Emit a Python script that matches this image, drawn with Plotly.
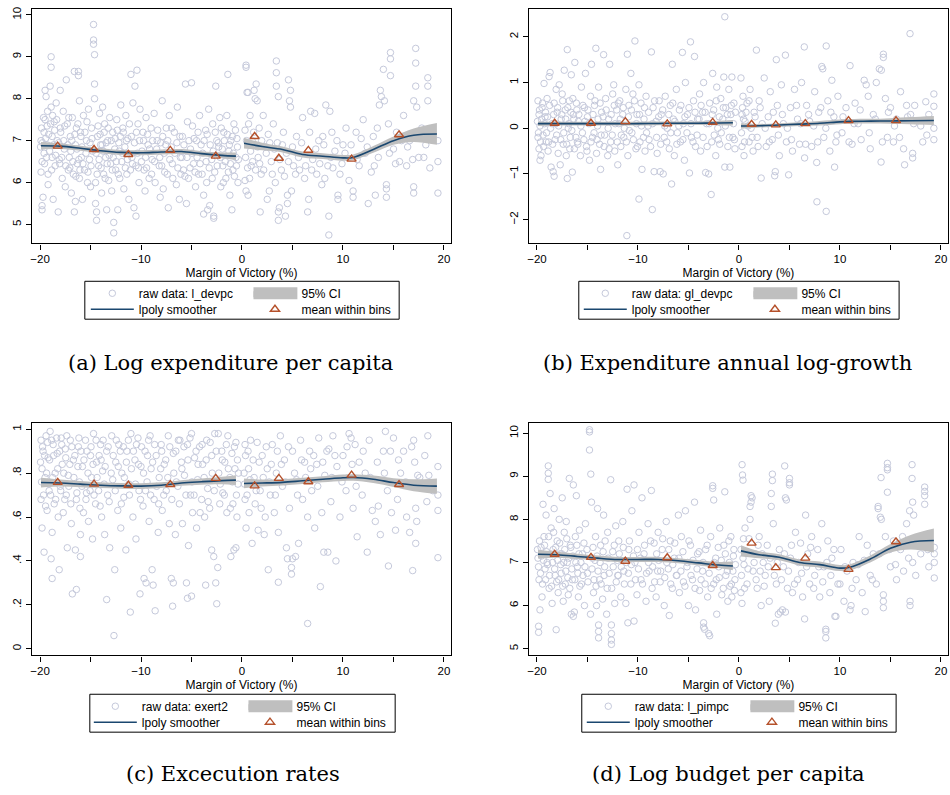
import plotly.graph_objects as go

# ---------------- data ----------------
raw_a = [(-19.9,7.0),(-19.8,6.5),(-19.9,6.25),(-19.8,5.35),(-19.8,5.45),(-19.7,5.65),(-19.6,6.7),(-19.6,7.2),(-19.5,7.5),(-19.5,8.2),(-19.4,8.05),(-19.3,7.35),(-19.3,6.9),(-19.2,6.2),(-19.2,5.95),(-19.0,8.3),(-18.9,9.0),(-18.9,8.75),(-18.9,7.8),(-18.8,7.1),(-18.8,6.6),(-18.7,5.6),(-18.6,7.45),(-18.5,6.4),(-18.4,7.9),(-18.3,7.0),(-18.2,5.3),(-18.1,6.55),(-18.0,8.2),(-18.0,7.3),
(-17.8,6.1),(-17.7,7.7),(-17.6,6.8),(-17.5,5.9),(-17.4,8.45),(-17.3,7.4),(-17.2,6.3),(-17.1,6.6),(-17.0,7.1),(-16.9,5.75),(-16.8,7.55),(-16.7,6.2),(-16.6,8.65),(-16.6,5.3),(-16.5,5.55),(-16.5,6.9),(-16.4,7.3),(-16.3,6.45),(-16.2,8.65),(-16.2,8.55),(-16.1,7.95),(-16.1,6.1),(-16.0,7.2),(-15.9,6.6),(-15.8,5.6),(-15.7,7.6),(-15.6,6.3),
(-15.4,7.0),(-15.3,6.0),(-15.2,7.75),(-15.1,6.55),(-15.0,5.9),(-14.9,7.3),(-14.8,6.75),(-14.7,9.77),(-14.7,9.4),(-14.7,9.3),(-14.6,9.05),(-14.6,8.35),(-14.6,8.0),(-14.5,6.0),(-14.5,5.5),(-14.4,5.3),(-14.4,5.1),(-14.3,7.1),(-14.2,6.4),(-14.1,7.65),(-14.0,6.9),(-13.9,5.75),(-13.8,7.8),
(-13.7,6.2),(-13.6,7.4),(-13.5,6.6),(-13.4,5.35),(-13.3,7.0),(-13.2,6.05),(-13.1,7.55),(-13.0,6.45),(-12.9,5.8),(-12.8,7.2),(-12.7,5.05),(-12.7,4.8),(-12.6,6.8),(-12.5,6.3),(-12.4,7.5),(-12.3,5.35),(-12.2,6.95),(-12.1,6.1),(-12.0,7.85),
(-11.9,6.5),(-11.8,7.3),(-11.7,5.85),(-11.6,6.85),(-11.5,7.6),(-11.4,6.2),(-11.3,7.05),(-11.2,5.6),(-11.0,8.58),(-10.9,6.6),(-10.8,7.9),(-10.7,5.4),(-10.6,8.3),(-10.5,5.2),(-10.5,6.4),(-10.4,8.68),(-10.3,7.4),(-10.2,6.0),(-10.1,7.75),
(-9.9,6.75),(-9.8,7.2),(-9.7,6.3),(-9.6,5.8),(-9.5,7.55),(-9.3,6.9),(-9.2,6.1),(-9.0,7.3),(-8.9,6.55),(-8.7,7.65),(-8.6,6.0),(-8.4,7.0),(-8.2,6.4),(-8.1,5.65),
(-7.9,7.95),(-7.8,5.85),(-7.7,6.7),(-7.5,7.3),(-7.4,6.2),(-7.3,5.4),(-7.2,7.6),(-7.0,6.85),(-6.9,6.45),(-6.7,7.2),(-6.5,5.95),(-6.4,7.8),(-6.2,5.6),(-6.1,6.6),
(-5.9,7.1),(-5.8,6.3),(-5.6,8.35),(-5.5,5.5),(-5.4,7.45),(-5.3,6.1),(-5.1,6.8),(-5.0,8.38),(-4.9,7.35),(-4.8,6.45),(-4.6,5.9),(-4.5,7.0),(-4.3,6.2),(-4.2,7.6),
(-3.9,6.7),(-3.8,5.7),(-3.8,5.25),(-3.6,7.25),(-3.5,6.0),(-3.4,5.35),(-3.3,7.75),(-3.2,5.45),(-3.0,6.55),(-2.9,7.4),(-2.8,5.2),(-2.8,5.15),(-2.7,6.25),(-2.6,8.3),(-2.5,7.0),(-2.3,6.85),(-2.2,7.55),(-2.1,5.9),
(-1.9,6.4),(-1.8,7.2),(-1.6,6.1),(-1.5,7.6),(-1.4,8.58),(-1.3,6.75),(-1.2,5.7),(-1.1,7.0),(-1.0,5.35),(-0.9,6.3),(-0.8,7.4),(-0.6,6.6),(-0.5,7.05),(-0.4,6.0),
(0.3,7.25),(0.3,6.05),(0.4,8.8),(0.4,8.75),(0.4,5.8),(0.5,8.15),(0.6,8.15),(0.6,5.7),(0.7,6.9),(0.8,7.6),(0.9,6.4),(1.0,7.0),(1.2,8.2),(1.3,8.0),(1.4,8.35),(1.5,7.95),(1.6,6.6),(1.7,7.3),(1.8,5.3),(1.9,6.2),(2.1,7.6),(2.3,6.85),(2.5,5.6),(2.6,7.15),(2.7,5.8),(2.9,6.5),(3.1,7.4),(3.3,6.0),(3.4,8.9),(3.4,8.62),(3.4,8.3),(3.5,6.95),(3.6,8.05),(3.6,5.3),(3.6,5.1),(3.7,5.4),(3.9,6.3),(4.1,7.2),(4.3,5.2),(4.4,6.7),(4.5,5.5),(4.5,5.7),(4.6,8.45),(4.7,7.95),(4.8,8.2),(4.8,7.8),(4.9,5.8),(5.1,6.4),(5.4,7.1),(5.7,6.3),(6.0,7.55),(6.2,6.1),(6.5,5.3),(6.6,5.6),(6.8,7.7),(7.0,6.55),(7.2,7.65),(7.4,6.2),(7.6,7.0),(7.9,5.95),(8.1,6.9),(8.3,7.85),(8.5,6.4),(8.6,4.75),(8.6,5.2),(8.7,7.7),(8.9,7.2),(9.2,6.75),(9.5,5.6),(9.5,5.7),(9.7,6.2),(10.0,6.9),(10.3,7.3),(10.6,6.05),(11.0,5.65),(11.0,5.8),(11.3,7.2),(11.6,6.4),(12.0,7.5),(12.2,6.7),(12.5,5.5),(12.8,6.25),(13.0,7.1),(13.2,5.7),(13.5,6.6),(13.6,7.85),(13.7,8.2),(13.8,8.05),(14.0,8.7),(14.1,7.95),(14.3,5.65),(14.3,5.85),(14.3,5.95),(14.5,7.4),(14.7,9.1),(14.7,8.95),(14.7,8.55),(15.0,6.8),(15.3,7.2),(15.6,6.5),(16.0,7.6),(16.3,6.4),(16.6,7.0),(17.0,5.75),(17.0,5.9),(17.0,7.95),(17.2,9.2),(17.2,8.85),(17.2,8.3),(17.3,7.8),(17.5,6.6),(17.8,7.3),(18.2,6.9),(18.4,8.5),(18.4,8.3),(18.4,7.95),(18.8,7.2),(19.4,7.0),(19.4,6.5),(19.4,5.75)]

raw_a_core = [(-19.95,6.85),(-19.85,7.3),(-19.75,6.95),(-19.65,7.55),(-19.55,6.45),(-19.45,7.05),(-19.35,6.6),(-19.25,7.7),(-19.15,7.15),(-19.05,6.75),(-18.95,7.4),(-18.85,6.3),(-18.75,7.6),(-18.65,6.9),(-18.55,7.25),(-18.45,6.65),(-18.35,7.5),(-18.15,6.95),(-18.05,6.45),
(-17.95,7.2),(-17.85,6.6),(-17.65,7.0),(-17.55,7.35),(-17.45,6.4),(-17.25,6.9),(-17.15,7.55),(-17.05,6.35),(-16.95,6.75),(-16.85,7.0),(-16.75,6.5),(-16.55,7.15),(-16.45,6.15),(-16.35,6.8),(-16.25,7.4),(-16.15,6.55),(-16.05,6.3),
(-15.95,7.1),(-15.85,6.85),(-15.75,6.45),(-15.55,7.2),(-15.45,6.7),(-15.35,7.45),(-15.25,6.25),(-15.05,6.95),(-14.95,6.4),(-14.85,7.05),(-14.45,6.7),(-14.35,6.2),(-14.25,7.35),(-14.15,6.55),(-14.05,7.15),
(-13.95,6.35),(-13.85,6.9),(-13.75,6.75),(-13.65,7.2),(-13.55,6.1),(-13.45,6.95),(-13.35,6.45),(-13.25,7.3),(-13.15,6.65),(-12.95,7.0),(-12.85,6.3),(-12.75,6.6),(-12.55,7.05),(-12.45,6.5),(-12.35,7.25),(-12.25,6.2),(-12.15,6.75),(-12.05,7.1),
(-11.85,6.7),(-11.75,7.2),(-11.55,6.35),(-11.45,7.0),(-11.35,6.55),(-11.15,7.4),(-11.05,6.3),(-10.95,7.1),(-10.85,6.45),(-10.65,6.95),(-10.45,7.2),(-10.35,6.7),(-10.25,6.35),(-10.15,7.0),
(-9.95,6.5),(-9.75,7.0),(-9.55,6.6),(-9.45,6.35),(-9.35,7.15),(-9.15,6.8),(-8.95,6.2),(-8.85,7.0),(-8.65,6.5),(-8.45,6.8),(-8.35,7.25),(-8.15,6.6),(-8.05,6.95),
(-7.95,6.4),(-7.85,7.1),(-7.65,6.25),(-7.55,6.9),(-7.35,7.0),(-7.15,6.55),(-6.95,7.3),(-6.85,6.1),(-6.65,6.7),(-6.45,6.95),(-6.35,6.35),(-6.15,7.1),(-6.05,6.2),
(-5.95,6.6),(-5.75,6.9),(-5.65,6.15),(-5.45,6.6),(-5.25,7.0),(-5.15,6.35),(-4.95,6.7),(-4.75,7.05),(-4.65,6.25),(-4.45,6.6),(-4.35,7.2),(-4.15,6.45),(-4.05,6.9),
(-3.95,6.2),(-3.75,7.0),(-3.55,6.5),(-3.45,7.15),(-3.25,6.35),(-3.15,6.9),(-2.95,6.1),(-2.85,6.75),(-2.65,7.2),(-2.45,6.4),(-2.35,6.95),(-2.15,6.6),(-2.05,7.3),
(-1.95,6.8),(-1.85,6.0),(-1.75,7.0),(-1.65,6.5),(-1.45,7.15),(-1.35,6.25),(-1.25,6.9),(-1.15,6.45),(-0.95,7.1),(-0.85,6.7),(-0.75,6.15),(-0.65,7.25),(-0.55,6.4),(-0.45,6.85),(-0.35,6.55),
(0.35,6.6),(0.45,7.0),(0.55,6.35),(0.65,7.4),(0.75,6.1),(0.85,6.75),(1.05,6.5),(1.15,7.2),(1.35,6.3),(1.55,6.85),(1.75,6.45),(1.95,7.0),(2.15,6.3),(2.4,6.7),(2.75,6.95),(3.0,6.2),(3.2,6.8),(3.75,6.55),(4.0,6.9),(4.2,6.15),(4.6,6.5),(5.0,6.85),(5.3,6.2),(5.6,6.6),(5.9,6.95),(6.3,6.4),(6.7,7.2),(6.9,6.3),(7.3,6.8),(7.7,6.45),(8.0,7.1),(8.2,6.1),(8.8,6.6),(9.0,6.35),(9.4,7.0),(9.9,6.45),(10.2,6.7),(10.8,6.9),(11.4,6.55),(11.8,7.05),(12.4,6.85),(13.1,6.4),(13.4,7.3),(14.6,6.7),(15.2,6.45),(15.8,7.0),(16.4,6.85),(16.9,6.55),(17.6,7.1),(18.0,6.6),(18.6,6.35)]

raw_b = [(-19.9,0.6),(-19.9,-0.2),(-19.8,-0.45),(-19.8,0.3),(-19.7,-0.7),(-19.7,0.05),(-19.6,-0.6),(-19.5,0.45),(-19.4,-0.15),(-19.3,0.98),(-19.2,0.25),(-19.1,-0.3),(-19.0,0.65),(-18.9,-0.5),(-18.8,1.13),(-18.7,1.22),(-18.6,-0.85),(-18.5,0.1),(-18.4,-0.95),(-18.3,-1.05),(-18.3,0.55),(-18.2,-0.25),(-18.1,0.85),(-18.0,0.35),
(-17.9,-0.55),(-17.8,0.95),(-17.7,-0.8),(-17.6,0.2),(-17.5,0.75),(-17.4,-0.35),(-17.3,1.27),(-17.2,0.4),(-17.1,-0.6),(-17.0,1.72),(-17.0,-1.1),(-16.9,0.0),(-16.8,0.6),(-16.7,-0.2),(-16.6,1.17),(-16.5,-0.96),(-16.4,0.3),(-16.3,-0.45),(-16.25,1.44),(-16.1,0.55),(-16.0,-0.3),
(-15.9,0.15),(-15.7,-0.6),(-15.6,0.9),(-15.5,-0.1),(-15.3,0.45),(-15.2,1.2),(-15.1,-0.4),(-15.0,0.25),(-14.8,-0.7),(-14.7,0.7),(-14.6,1.4),(-14.5,-0.2),(-14.3,0.5),(-14.17,1.75),(-14.1,-0.55),(-14.0,0.05),
(-13.9,0.9),(-13.8,-0.35),(-13.7,-0.9),(-13.6,0.35),(-13.4,1.61),(-13.3,-0.15),(-13.2,0.65),(-13.0,-0.6),(-12.9,0.2),(-12.8,1.4),(-12.7,-0.3),(-12.5,0.75),(-12.4,0.95),(-12.3,-0.5),(-12.1,0.4),(-12.0,-0.8),
(-11.9,0.1),(-11.8,0.6),(-11.7,-0.4),(-11.5,0.3),(-11.4,-0.2),(-11.2,0.85),(-11.05,1.62),(-11.1,-2.35),(-11.0,-0.6),(-10.9,0.5),(-10.7,1.2),(-10.6,-0.1),(-10.5,0.75),(-10.3,1.91),(-10.2,-0.45),(-10.1,0.3),
(-9.9,-1.55),(-9.9,0.95),(-9.8,-0.3),(-9.7,0.55),(-9.6,-0.9),(-9.4,0.2),(-9.3,-0.5),(-9.2,0.7),(-9.0,0.05),(-8.9,-0.25),(-8.67,1.67),(-8.58,-1.78),(-8.5,0.45),(-8.4,-0.95),(-8.2,0.15),(-8.1,-0.55),
(-7.9,0.6),(-7.8,-0.95),(-7.7,0.3),(-7.5,-1.0),(-7.4,-0.2),(-7.3,0.7),(-7.1,0.0),(-6.9,-0.45),(-6.8,0.5),(-6.67,-1.22),(-6.6,1.4),(-6.5,0.2),(-6.4,-0.6),(-6.2,0.85),(-6.1,-0.1),
(-5.9,0.4),(-5.8,-0.3),(-5.6,1.66),(-5.5,0.1),(-5.4,-0.7),(-5.3,1.0),(-5.1,0.3),(-4.9,-0.98),(-4.8,1.89),(-4.7,-0.2),(-4.5,0.6),(-4.4,1.57),(-4.3,-0.4),(-4.1,0.2),
(-3.9,0.75),(-3.8,-0.5),(-3.6,0.35),(-3.5,1.0),(-3.3,-0.97),(-3.2,0.1),(-3.0,-1.0),(-2.9,0.55),(-2.75,-1.45),(-2.7,-0.3),(-2.6,1.2),(-2.5,0.4),(-2.3,-0.6),(-2.2,0.9),(-2.1,0.0),
(-1.9,-0.35),(-1.8,0.65),(-1.6,0.2),(-1.5,1.12),(-1.4,2.44),(-1.4,-0.85),(-1.3,0.45),(-1.1,-0.4),(-1.0,0.85),(-0.9,-0.85),(-0.8,0.3),(-0.7,1.12),(-0.6,-0.2),(-0.5,0.55),(-0.4,-0.45),
(0.2,1.1),(0.3,0.3),(0.3,-0.4),(0.4,0.7),(0.5,-0.6),(0.6,0.15),(0.8,0.55),(1.0,-0.3),(1.1,0.85),(1.2,0.0),(1.4,-0.5),(1.5,0.35),(1.73,1.71),(1.8,-0.2),(2.0,0.6),(2.2,-1.09),(2.3,0.1),(2.5,1.1),(2.7,-0.4),(2.9,0.25),(3.1,0.8),(3.3,-0.25),(3.54,-1.04),(3.6,-0.95),(3.7,1.5),(3.8,0.5),(4.0,-0.6),(4.2,0.95),(4.4,0.1),(4.6,1.6),(4.7,-0.3),(4.92,-1.02),(5.1,0.45),(5.3,-0.5),(5.5,0.85),(5.8,0.2),(6.0,-0.35),(6.2,1.0),(6.47,1.78),(6.5,-0.65),(6.7,0.5),(7.0,0.15),(7.2,-0.4),(7.5,0.8),(7.7,-0.75),(7.72,-1.61),(7.9,0.35),(8.2,1.35),(8.3,1.3),(8.4,-0.2),(8.64,1.8),(8.64,-1.82),(8.8,0.6),(9.0,-0.5),(9.2,1.05),(9.4,0.25),(9.47,-0.85),(9.6,-0.3),(9.8,0.7),(10.2,-0.1),(10.6,0.45),(11.0,1.37),(11.2,-0.35),(11.5,0.55),(11.8,0.1),(12.1,-0.25),(12.4,1.05),(12.6,0.95),(12.8,0.7),(13.0,-0.45),(13.3,0.3),(13.6,1.0),(13.9,1.3),(14.07,-0.74),(14.1,1.27),(14.3,1.62),(14.3,1.55),(14.5,0.65),(14.7,-0.2),(15.0,0.45),(15.3,-0.3),(15.6,0.2),(16.0,0.8),(16.3,-0.45),(16.4,-0.8),(16.6,0.5),(16.94,2.07),(17.0,0.3),(17.2,-0.55),(17.2,-0.65),(17.4,0.5),(18.0,0.05),(18.5,0.58),(18.6,-0.15),(19.3,0.75),(19.3,0.48),(19.3,-0.25),(19.3,0.0)]

raw_b_core = [(-19.95,0.15),(-19.85,-0.1),(-19.75,0.4),(-19.65,-0.3),(-19.55,0.2),(-19.45,0.55),(-19.35,-0.4),(-19.25,0.1),(-19.15,0.35),(-19.05,-0.1),(-18.95,0.25),(-18.85,-0.3),(-18.75,0.5),(-18.65,0.0),(-18.45,-0.35),(-18.35,0.3),(-18.15,0.1),(-18.05,-0.15),
(-17.95,0.45),(-17.85,0.05),(-17.65,-0.25),(-17.55,0.3),(-17.45,0.6),(-17.35,-0.1),(-17.15,0.2),(-17.05,-0.35),(-16.95,0.45),(-16.85,0.1),(-16.75,-0.45),(-16.65,0.35),(-16.55,-0.05),(-16.45,0.65),(-16.35,0.2),(-16.15,-0.2),(-16.05,0.4),
(-15.95,-0.35),(-15.85,0.3),(-15.65,0.05),(-15.45,0.5),(-15.35,-0.25),(-15.25,0.15),(-15.05,-0.5),(-14.95,0.4),(-14.85,0.1),(-14.65,-0.3),(-14.45,0.3),(-14.35,-0.1),(-14.25,0.6),(-14.05,-0.25),
(-13.95,0.2),(-13.75,0.55),(-13.65,-0.15),(-13.45,0.25),(-13.35,-0.4),(-13.15,0.4),(-12.95,0.0),(-12.85,-0.45),(-12.65,0.3),(-12.55,-0.15),(-12.35,0.5),(-12.25,0.1),(-12.05,-0.3),
(-11.95,0.55),(-11.75,0.2),(-11.65,-0.15),(-11.45,0.45),(-11.35,0.0),(-11.15,-0.3),(-10.95,0.25),(-10.85,-0.05),(-10.65,0.4),(-10.45,-0.25),(-10.35,0.6),(-10.15,0.1),(-10.05,-0.4),
(-9.85,0.3),(-9.65,0.05),(-9.45,-0.2),(-9.35,0.45),(-9.15,-0.1),(-8.95,0.35),(-8.75,-0.4),(-8.55,0.1),(-8.35,0.6),(-8.15,-0.2),
(-7.95,0.25),(-7.75,-0.35),(-7.55,0.4),(-7.35,0.05),(-7.15,-0.3),(-6.95,0.3),(-6.75,-0.1),(-6.55,0.55),(-6.35,0.15),(-6.15,-0.35),
(-5.95,0.05),(-5.75,0.5),(-5.55,-0.25),(-5.35,0.25),(-5.15,-0.1),(-4.95,0.45),(-4.75,0.1),(-4.55,-0.3),(-4.35,0.35),(-4.15,-0.15),
(-3.95,0.2),(-3.75,0.5),(-3.55,-0.2),(-3.35,0.35),(-3.15,-0.4),(-2.95,0.1),(-2.65,0.3),(-2.45,-0.15),(-2.25,0.6),(-2.05,-0.25),
(-1.95,0.25),(-1.75,-0.1),(-1.55,0.45),(-1.35,0.05),(-1.15,0.3),(-0.95,-0.2),(-0.75,0.5),(-0.55,0.1),(-0.45,-0.25),(-0.35,0.35),
(0.25,-0.1),(0.35,0.45),(0.45,0.2),(0.55,-0.3),(0.7,0.35),(0.9,0.05),(1.0,0.6),(1.3,-0.2),(1.6,0.25),(1.9,-0.4),(2.1,0.45),(2.6,0.0),(3.0,-0.3),(3.4,0.35),(3.9,-0.15),(4.3,0.3),(4.8,0.0),(5.2,-0.25),(5.7,0.5),(6.1,0.1),(6.6,-0.35),(6.9,0.3),(7.4,0.05),(7.8,-0.3),(8.1,0.45),(8.6,0.0),(9.1,0.35),(9.7,-0.15),(10.3,0.25),(10.9,-0.3),(11.4,0.1),(12.0,0.4),(12.9,-0.1),(13.5,0.2),(14.2,-0.3),(14.8,0.35),(15.4,0.05),(15.9,-0.2),(16.7,0.25),(17.3,0.1),(18.2,-0.3),(18.8,0.3)]

raw_c = [(-19.9,0.95),(-19.9,0.68),(-19.8,0.55),(-19.8,0.82),(-19.7,0.9),(-19.6,0.44),(-19.5,0.78),(-19.4,0.97),(-19.3,0.63),(-19.2,0.87),(-19.1,0.72),(-19.0,0.99),(-18.9,0.41),(-18.8,0.32),(-18.8,0.53),(-18.7,0.93),(-18.6,0.66),(-18.5,0.8),(-18.3,0.89),(-18.2,0.6),(-18.1,0.36),(-18.0,0.74),
(-17.9,0.96),(-17.8,0.84),(-17.7,0.62),(-17.5,0.91),(-17.4,0.7),(-17.3,0.46),(-17.2,0.79),(-17.0,0.95),(-16.9,0.57),(-16.8,0.25),(-16.7,0.86),(-16.5,0.45),(-16.4,0.27),(-16.4,0.68),(-16.2,0.92),(-16.1,0.76),(-16.0,0.42),(-16.0,0.52),
(-15.8,0.83),(-15.7,0.62),(-15.5,0.95),(-15.4,0.71),(-15.2,0.58),(-15.0,0.88),(-14.9,0.78),(-14.8,0.5),(-14.7,0.98),(-14.5,0.66),(-14.4,0.85),(-14.2,0.72),(-14.0,0.93),
(-13.9,0.6),(-13.8,0.81),(-13.6,0.52),(-13.4,0.224),(-13.4,0.9),(-13.3,0.7),(-13.1,0.46),(-12.9,0.97),(-12.8,0.77),(-12.68,0.06),(-12.6,0.36),(-12.5,0.85),(-12.3,0.63),(-12.2,0.93),(-12.0,0.55),
(-11.9,0.8),(-11.7,0.69),(-11.5,0.45),(-11.4,0.9),(-11.2,0.75),(-11.06,0.167),(-11.0,0.98),(-10.8,0.6),(-10.6,0.86),(-10.5,0.5),(-10.3,0.96),(-10.2,0.72),(-10.1,0.25),(-10.0,0.83),
(-9.8,0.65),(-9.7,0.32),(-9.6,0.9),(-9.5,0.3),(-9.4,0.76),(-9.2,0.58),(-9.1,0.97),(-9.0,0.82),(-8.9,0.36),(-8.8,0.29),(-8.7,0.68),(-8.6,0.173),(-8.5,0.88),(-8.3,0.53),(-8.2,0.78),(-8.0,0.93),
(-7.9,0.63),(-7.7,0.84),(-7.5,0.72),(-7.3,0.97),(-7.2,0.57),(-7.0,0.32),(-6.87,0.194),(-6.8,0.3),(-6.8,0.89),(-6.6,0.52),(-6.5,0.76),(-6.3,0.95),(-6.2,0.66),(-6.0,0.85),
(-5.9,0.57),(-5.7,0.79),(-5.5,0.3),(-5.4,0.23),(-5.4,0.93),(-5.3,0.47),(-5.1,0.7),(-5.0,0.24),(-5.0,0.98),(-4.9,0.62),(-4.7,0.87),(-4.5,0.55),(-4.4,0.77),(-4.2,0.92),(-4.0,0.68),
(-3.9,0.84),(-3.7,0.6),(-3.6,0.29),(-3.5,0.95),(-3.4,0.73),(-3.2,0.64),(-3.0,0.45),(-3.0,0.88),(-2.8,0.42),(-2.7,0.98),(-2.6,0.3),(-2.5,0.205),(-2.4,0.37),(-2.3,0.8),(-2.2,0.66),(-2.0,0.9),
(-1.9,0.71),(-1.7,0.85),(-1.5,0.62),(-1.4,0.97),(-1.2,0.78),(-1.1,0.42),(-1.0,0.89),(-0.9,0.66),(-0.8,0.45),(-0.7,0.82),(-0.6,0.46),(-0.6,0.94),(-0.5,0.6),(-0.4,0.75),
(0.2,0.8),(0.3,0.93),(0.3,0.68),(0.4,0.55),(0.6,0.9),(0.7,0.62),(0.8,0.77),(1.0,0.48),(1.1,0.86),(1.3,0.66),(1.5,0.94),(1.6,0.54),(1.8,0.72),(2.0,0.88),(2.2,0.52),(2.3,0.6),(2.5,0.82),(2.6,0.36),(2.8,0.7),(3.0,0.93),(3.2,0.62),(3.4,0.8),(3.6,0.303),(3.6,0.53),(3.8,0.97),(4.0,0.74),(4.2,0.86),(4.4,0.46),(4.5,0.41),(4.7,0.64),(4.9,0.34),(4.9,0.37),(5.0,0.41),(5.0,0.9),(5.3,0.42),(5.4,0.77),(5.6,0.48),(5.8,0.95),(6.0,0.68),(6.2,0.85),(6.5,0.115),(6.5,0.6),(6.7,0.9),(6.9,0.72),(7.2,0.55),(7.4,0.84),(7.6,0.96),(7.76,0.283),(7.9,0.62),(8.1,0.44),(8.2,0.79),(8.5,0.44),(8.6,0.91),(8.8,0.67),(9.0,0.97),(9.3,0.4),(9.4,0.83),(9.7,0.6),(10.0,0.88),(10.3,0.72),(10.6,0.98),(10.8,0.96),(11.0,0.64),(11.2,0.93),(11.4,0.51),(11.6,0.85),(11.9,0.7),(12.2,0.8),(12.4,0.44),(12.6,0.95),(12.9,0.63),(13.2,0.58),(13.5,0.65),(13.7,0.52),(14.0,0.9),(14.2,0.99),(14.4,0.72),(14.5,0.377),(14.8,0.62),(15.0,0.96),(15.2,0.54),(15.4,0.68),(15.7,0.8),(16.0,0.9),(16.3,0.6),(16.6,0.53),(16.9,0.356),(17.0,0.95),(17.1,0.85),(17.2,0.64),(17.2,0.48),(17.3,0.58),(17.4,0.79),(18.3,0.67),(18.4,0.97),(18.5,0.79),(19.4,0.83),(19.4,0.7),(19.4,0.63),(19.4,0.415)]

raw_c_core = [(-19.95,0.85),(-19.85,0.76),(-19.75,0.92),(-19.65,0.7),(-19.55,0.88),(-19.45,0.65),(-19.35,0.8),(-19.25,0.94),(-19.15,0.75),(-19.05,0.86),(-18.95,0.7),(-18.85,0.95),(-18.75,0.78),(-18.65,0.88),(-18.45,0.68),(-18.35,0.96),(-18.25,0.82),(-18.05,0.9),
(-17.95,0.72),(-17.85,0.93),(-17.65,0.8),(-17.55,0.68),(-17.45,0.87),(-17.35,0.97),(-17.15,0.74),(-17.05,0.84),(-16.95,0.66),(-16.85,0.92),(-16.65,0.78),(-16.55,0.88),(-16.35,0.71),(-16.25,0.83),(-16.15,0.96),(-16.05,0.64),
(-15.95,0.9),(-15.85,0.74),(-15.65,0.86),(-15.45,0.68),(-15.35,0.9),(-15.25,0.8),(-15.05,0.72),(-14.95,0.92),(-14.75,0.84),(-14.65,0.7),(-14.45,0.95),(-14.35,0.78),(-14.15,0.88),(-14.05,0.65),
(-13.95,0.86),(-13.75,0.95),(-13.65,0.75),(-13.55,0.83),(-13.25,0.92),(-13.15,0.67),(-12.95,0.8),(-12.75,0.88),(-12.55,0.72),(-12.45,0.95),(-12.25,0.83),(-12.05,0.9),
(-11.95,0.66),(-11.75,0.92),(-11.65,0.78),(-11.45,0.85),(-11.25,0.95),(-11.15,0.7),(-10.95,0.82),(-10.75,0.9),(-10.55,0.75),(-10.45,0.93),(-10.25,0.84),(-10.05,0.68),
(-9.95,0.92),(-9.75,0.8),(-9.55,0.72),(-9.35,0.88),(-9.25,0.95),(-9.05,0.7),(-8.85,0.85),(-8.65,0.93),(-8.45,0.74),(-8.25,0.66),(-8.05,0.82),
(-7.95,0.9),(-7.75,0.7),(-7.55,0.86),(-7.35,0.78),(-7.15,0.92),(-6.95,0.68),(-6.75,0.8),(-6.55,0.9),(-6.35,0.74),(-6.15,0.95),
(-5.95,0.82),(-5.75,0.92),(-5.55,0.7),(-5.35,0.86),(-5.15,0.96),(-4.95,0.76),(-4.75,0.7),(-4.55,0.9),(-4.35,0.84),(-4.15,0.62),
(-3.95,0.93),(-3.75,0.78),(-3.55,0.86),(-3.35,0.67),(-3.15,0.94),(-2.95,0.8),(-2.75,0.72),(-2.55,0.9),(-2.35,0.98),(-2.15,0.75),
(-1.95,0.86),(-1.75,0.7),(-1.55,0.93),(-1.35,0.82),(-1.15,0.64),(-0.95,0.76),(-0.75,0.92),(-0.55,0.7),(-0.45,0.86),(-0.35,0.8),
(0.25,0.75),(0.35,0.88),(0.5,0.7),(0.65,0.82),(0.85,0.95),(1.2,0.78),(1.4,0.72),(1.7,0.85),(1.9,0.64),(2.1,0.78),(2.4,0.92),(2.7,0.76),(2.9,0.84),(3.3,0.7),(3.5,0.9),(3.9,0.84),(4.3,0.76),(4.6,0.92),(5.2,0.8),(5.5,0.7),(5.9,0.86),(6.3,0.78),(6.8,0.82),(7.1,0.88),(7.5,0.74),(8.0,0.85),(8.4,0.9),(8.9,0.78),(9.2,0.88),(9.9,0.76),(10.4,0.92),(10.9,0.84),(11.3,0.74),(12.0,0.9),(12.7,0.78),(13.4,0.85),(14.1,0.8),(14.7,0.9),(15.5,0.86),(16.2,0.76),(16.8,0.92),(17.6,0.78),(18.1,0.88),(18.9,0.72)]

raw_d = [(-19.9,7.1),(-19.84,5.52),(-19.84,5.38),(-19.8,6.6),(-19.7,5.9),(-19.6,7.35),(-19.5,6.2),(-19.4,8.35),(-19.3,7.6),(-19.2,6.85),(-19.1,8.1),(-19.0,7.0),(-18.88,9.24),(-18.88,9.07),(-18.88,8.93),(-18.8,6.4),(-18.7,8.6),(-18.6,7.8),(-18.5,6.05),(-18.4,7.3),(-18.3,8.25),(-18.2,6.7),(-18.1,5.44),(-18.0,7.5),
(-17.9,6.3),(-17.8,8.0),(-17.7,7.2),(-17.6,6.75),(-17.5,8.5),(-17.4,6.1),(-17.3,7.7),(-17.2,6.5),(-17.1,7.95),(-17.0,7.0),(-16.9,6.25),(-16.8,8.95),(-16.7,7.4),(-16.6,5.8),(-16.5,6.6),(-16.4,8.8),(-16.4,5.75),(-16.3,5.85),(-16.2,7.6),(-16.1,8.55),(-16.0,6.9),
(-15.9,6.2),(-15.8,7.75),(-15.6,6.5),(-15.5,7.2),(-15.3,6.0),(-15.2,7.9),(-15.0,6.75),(-14.8,10.08),(-14.8,10.03),(-14.8,9.61),(-14.7,5.8),(-14.67,9.05),(-14.6,8.4),(-14.5,7.1),(-14.4,6.3),(-14.2,7.6),(-14.1,6.0),(-14.0,8.25),
(-13.9,5.55),(-13.9,5.4),(-13.9,5.25),(-13.8,6.6),(-13.7,7.4),(-13.5,6.15),(-13.4,8.1),(-13.3,6.9),(-13.1,5.8),(-13.0,7.7),(-12.7,8.92),(-12.63,5.55),(-12.63,5.35),(-12.63,5.2),(-12.63,5.1),(-12.6,6.4),(-12.5,7.25),(-12.3,6.05),(-12.2,7.85),(-12.0,6.7),
(-11.9,7.5),(-11.7,6.2),(-11.5,7.95),(-11.4,6.8),(-11.2,6.05),(-11.08,8.7),(-11.0,5.6),(-10.9,7.3),(-10.7,6.5),(-10.6,8.2),(-10.39,8.8),(-10.39,5.64),(-10.3,7.0),(-10.1,6.25),
(-9.9,7.7),(-9.7,6.6),(-9.6,8.5),(-9.4,7.2),(-9.2,6.1),(-9.0,7.9),(-8.9,6.8),(-8.67,8.67),(-8.6,6.4),(-8.4,7.45),(-8.2,6.2),(-8.0,7.7),
(-7.8,6.55),(-7.6,7.3),(-7.4,6.0),(-7.2,7.95),(-7.0,6.85),(-6.9,5.77),(-6.8,7.5),(-6.6,6.4),(-6.4,7.1),(-6.2,6.7),(-6.0,8.1),
(-5.9,6.3),(-5.7,7.6),(-5.5,6.55),(-5.3,8.2),(-5.1,7.0),(-5.0,6.0),(-4.8,7.4),(-4.6,6.6),(-4.4,8.4),(-4.3,5.9),(-4.1,7.2),
(-3.9,6.35),(-3.8,7.75),(-3.6,6.8),(-3.5,5.6),(-3.5,5.5),(-3.4,5.45),(-3.3,7.3),(-3.1,6.2),(-3.0,5.35),(-2.9,5.3),(-2.8,7.6),(-2.6,8.78),(-2.6,8.72),(-2.5,8.45),(-2.5,6.5),(-2.3,7.1),(-2.2,5.8),(-2.0,6.9),
(-1.9,7.8),(-1.7,6.25),(-1.5,7.4),(-1.4,8.64),(-1.3,6.7),(-1.1,6.1),(-1.0,7.5),(-0.9,6.45),(-0.8,7.6),(-0.7,6.2),(-0.6,6.8),(-0.5,7.3),(-0.4,6.6),
(0.2,7.3),(0.2,6.3),(0.3,6.05),(0.31,9.27),(0.35,9.03),(0.4,8.91),(0.4,7.1),(0.5,6.95),(0.6,7.8),(0.8,6.5),(1.0,7.55),(1.1,8.3),(1.1,8.0),(1.2,8.55),(1.2,8.4),(1.3,8.5),(1.4,6.8),(1.6,7.2),(1.8,6.4),(2.0,7.6),(2.2,6.0),(2.4,7.0),(2.6,6.7),(2.8,7.4),(3.0,6.1),(3.2,8.6),(3.2,8.3),(3.31,9.05),(3.31,8.9),(3.4,7.9),(3.6,5.59),(3.7,6.5),(3.9,5.8),(4.0,7.3),(4.1,5.85),(4.3,5.9),(4.4,6.9),(4.53,9.24),(4.6,8.5),(4.6,5.85),(4.7,8.45),(4.8,6.4),(5.0,8.95),(5.0,8.85),(5.0,8.8),(5.1,7.1),(5.3,6.3),(5.6,7.7),(5.8,6.6),(6.1,7.45),(6.3,6.2),(6.5,5.69),(6.6,8.1),(6.8,7.2),(7.0,6.5),(7.2,7.6),(7.5,6.7),(7.8,7.3),(8.0,6.2),(8.2,7.9),(8.4,6.9),(8.6,5.45),(8.6,5.4),(8.6,5.25),(8.8,7.5),(9.0,6.3),(9.2,7.1),(9.5,5.75),(9.6,5.75),(9.8,6.5),(10.1,7.3),(10.4,6.1),(10.7,6.8),(11.0,5.9),(11.1,6.0),(11.3,7.0),(11.6,6.6),(11.9,7.6),(12.2,6.3),(12.5,5.86),(12.7,7.4),(13.0,6.7),(13.3,7.2),(13.6,6.5),(13.78,8.3),(13.78,8.25),(14.07,8.97),(14.0,8.05),(14.1,8.0),(14.3,5.95),(14.3,6.1),(14.3,6.25),(14.5,7.6),(14.7,9.3),(14.7,9.2),(14.7,9.15),(14.7,8.63),(15.0,6.9),(15.3,7.5),(15.6,6.6),(16.0,7.3),(16.3,6.8),(16.6,7.9),(16.94,6.0),(16.94,6.1),(16.9,8.2),(17.14,9.27),(17.14,8.95),(17.2,8.4),(17.3,8.1),(17.2,7.0),(17.5,6.7),(18.0,7.2),(18.39,8.75),(18.39,8.65),(18.39,8.55),(18.39,8.35),(18.8,6.9),(19.34,7.35),(19.34,7.2),(19.34,7.0),(19.34,6.64)]

raw_d_core = [(-19.95,7.3),(-19.85,6.9),(-19.75,7.5),(-19.65,6.75),(-19.55,7.15),(-19.45,6.5),(-19.35,7.05),(-19.25,7.4),(-19.15,6.6),(-19.05,7.25),(-18.95,6.95),(-18.85,7.6),(-18.75,6.7),(-18.65,7.2),(-18.55,6.45),(-18.45,7.0),(-18.35,7.7),(-18.25,6.85),(-18.15,7.35),(-18.05,6.55),
(-17.95,7.05),(-17.85,6.6),(-17.75,7.45),(-17.65,6.95),(-17.55,7.2),(-17.45,6.45),(-17.35,7.0),(-17.25,7.3),(-17.15,6.8),(-17.05,7.55),(-16.95,6.65),(-16.85,7.1),(-16.75,6.4),(-16.65,7.35),(-16.55,6.85),(-16.45,7.15),(-16.25,6.6),(-16.15,7.0),(-16.05,7.4),
(-15.95,6.75),(-15.85,7.2),(-15.75,6.45),(-15.65,7.0),(-15.45,6.7),(-15.35,7.45),(-15.25,6.9),(-15.05,7.3),(-14.95,6.55),(-14.55,6.85),(-14.45,7.35),(-14.35,6.6),(-14.25,7.05),(-14.15,6.45),(-14.05,7.15),
(-13.95,6.8),(-13.75,7.0),(-13.65,6.5),(-13.45,7.25),(-13.35,6.7),(-13.25,7.5),(-13.05,6.4),(-12.95,7.1),(-12.85,6.75),(-12.45,6.9),(-12.35,7.4),(-12.15,6.55),(-12.05,7.05),
(-11.95,6.7),(-11.85,7.2),(-11.65,6.9),(-11.45,7.35),(-11.35,6.5),(-11.15,7.0),(-10.95,6.75),(-10.85,7.5),(-10.65,6.95),(-10.45,7.15),(-10.25,6.6),(-10.05,7.3),
(-9.95,6.85),(-9.75,7.1),(-9.55,6.5),(-9.35,7.4),(-9.15,6.75),(-8.95,7.0),(-8.75,7.5),(-8.55,6.9),(-8.35,6.55),(-8.15,7.2),(-8.05,6.8),
(-7.95,7.05),(-7.75,6.8),(-7.55,7.55),(-7.35,6.65),(-7.15,7.0),(-6.95,7.3),(-6.75,6.5),(-6.55,6.95),(-6.35,7.45),(-6.15,6.7),
(-5.95,7.1),(-5.75,6.8),(-5.55,7.25),(-5.35,6.45),(-5.15,6.9),(-4.95,7.5),(-4.75,6.7),(-4.55,7.05),(-4.35,6.4),(-4.15,6.85),
(-3.95,7.25),(-3.75,6.6),(-3.55,7.0),(-3.35,6.5),(-3.15,7.4),(-2.95,6.75),(-2.75,6.4),(-2.45,7.0),(-2.25,6.6),(-2.05,7.35),
(-1.95,6.65),(-1.75,7.05),(-1.55,6.4),(-1.35,7.2),(-1.15,6.8),(-0.95,7.0),(-0.75,6.5),(-0.55,7.15),(-0.45,6.35),(-0.35,6.95),
(0.25,6.7),(0.45,7.55),(0.55,6.4),(0.7,7.25),(0.9,6.85),(1.5,7.0),(1.7,6.6),(1.9,7.4),(2.1,6.8),(2.3,7.2),(2.5,6.45),(2.9,6.9),(3.1,7.1),(3.5,6.7),(3.8,7.0),(4.2,6.6),(4.5,7.2),(4.9,6.8),(5.2,7.4),(5.5,6.5),(5.9,7.0),(6.2,6.75),(6.7,6.9),(7.1,7.35),(7.4,6.4),(7.9,6.9),(8.3,6.55),(8.7,7.0),(9.1,6.7),(9.4,7.3),(10.0,6.5),(10.5,6.9),(11.2,6.4),(11.8,6.95),(12.4,7.05),(13.2,6.6),(13.9,7.2),(14.9,7.3),(15.5,6.95),(16.2,7.6),(16.8,7.1),(17.4,7.4),(18.2,7.6),(18.7,7.3)]

# local polynomial smoother (fit and CI half-width) on each side of the cutoff
sm_x_left = [-19.9, -18, -16, -14, -12, -10, -8, -6, -4, -2, -0.6]
sm_x_right = [0.2, 2, 4, 6, 8, 10, 11, 13, 15, 17, 19.3]

a_fit_left = [6.88, 6.87, 6.82, 6.76, 6.72, 6.71, 6.73, 6.74, 6.69, 6.65, 6.63]
a_hw_left = [0.09, 0.07, 0.06, 0.06, 0.06, 0.06, 0.06, 0.06, 0.06, 0.07, 0.09]
a_fit_right = [6.94, 6.86, 6.79, 6.67, 6.63, 6.59, 6.60, 6.79, 7.0, 7.13, 7.16]
a_hw_right = [0.13, 0.09, 0.07, 0.07, 0.07, 0.07, 0.07, 0.08, 0.1, 0.16, 0.26]

b_fit_left = [0.1, 0.1, 0.1, 0.1, 0.1, 0.1, 0.105, 0.11, 0.11, 0.115, 0.12]
b_hw_left = [0.05, 0.04, 0.04, 0.04, 0.04, 0.04, 0.04, 0.04, 0.04, 0.05, 0.06]
b_fit_right = [0.05, 0.055, 0.07, 0.09, 0.11, 0.14, 0.15, 0.155, 0.16, 0.165, 0.17]
b_hw_right = [0.06, 0.04, 0.04, 0.04, 0.05, 0.05, 0.05, 0.05, 0.06, 0.08, 0.1]

c_fit_left = [0.757, 0.755, 0.75, 0.745, 0.742, 0.741, 0.745, 0.755, 0.761, 0.766, 0.768]
c_hw_left = [0.022, 0.016, 0.014, 0.013, 0.013, 0.013, 0.013, 0.013, 0.014, 0.017, 0.022]
c_fit_right = [0.753, 0.755, 0.758, 0.765, 0.772, 0.779, 0.78, 0.772, 0.757, 0.745, 0.741]
c_hw_right = [0.022, 0.016, 0.014, 0.014, 0.014, 0.015, 0.015, 0.017, 0.02, 0.027, 0.035]

d_fit_left = [7.19, 7.18, 7.14, 7.10, 7.07, 7.07, 7.07, 7.04, 6.99, 6.94, 6.92]
d_hw_left = [0.1, 0.07, 0.06, 0.06, 0.06, 0.06, 0.06, 0.06, 0.06, 0.07, 0.1]
d_fit_right = [7.27, 7.18, 7.12, 7.0, 6.95, 6.87, 6.89, 7.08, 7.33, 7.47, 7.51]
d_hw_right = [0.13, 0.08, 0.07, 0.07, 0.07, 0.07, 0.07, 0.08, 0.1, 0.17, 0.28]

# means within bins
bin_x = [-18.25, -14.65, -11.25, -7.1, -2.6, 1.25, 3.65, 6.57, 10.85, 15.55]
a_bin_mean = [6.87, 6.79, 6.67, 6.77, 6.63, 7.10, 6.58, 6.77, 6.56, 7.14]
b_bin_mean = [0.11, 0.11, 0.145, 0.095, 0.13, 0.087, 0.073, 0.10, 0.167, 0.167]
c_bin_mean = [0.758, 0.75, 0.745, 0.748, 0.776, 0.742, 0.776, 0.761, 0.791, 0.748]
d_bin_mean = [7.19, 7.12, 7.03, 7.11, 6.93, 7.45, 6.88, 7.10, 6.84, 7.48]

var_names = ["l_devpc", "gl_devpc", "exert2", "l_pimpc"]
captions = ["(a) Log expenditure per capita", "(b) Expenditure annual log-growth",
            "(c) Excecution rates", "(d) Log budget per capita"]
x_ticks = [-20, -10, 0, 10, 20]
x_tick_labels = ["\u221220", "\u221210", "0", "10", "20"]
x_minor = [-15, -5, 5, 15]
a_y_ticks = [5, 6, 7, 8, 9, 10]
b_y_ticks = [-2, -1, 0, 1, 2]
b_y_labels = ["\u22122", "\u22121", "0", "1", "2"]
c_y_ticks = [0, 0.2, 0.4, 0.6, 0.8, 1]
c_y_labels = ["0", ".2", ".4", ".6", ".8", "1"]
d_y_ticks = [5, 6, 7, 8, 9, 10]

# ---------------- styling ----------------
W, H = 950, 795
RAW_C = "#C5C9DB"
LINE_C = "#1A476F"
CI_C = "#BFBFBF"
TRI_C = "#B5512B"
FONT = "Liberation Sans, Arial, sans-serif"

def px(x):
    return x / W

def py(y):
    return 1 - y / H

fig = go.Figure()

panels = [
    dict(raw=raw_a + raw_a_core, fl=a_fit_left, hl=a_hw_left, fr=a_fit_right, hr=a_hw_right, bm=a_bin_mean,
         yr=[4.55, 10.14], yt=a_y_ticks, yl=[str(v) for v in a_y_ticks],
         dom_x=(30, 450), dom_y=(7, 242), leg_cols=(89, 252), leg_rows=(292, 308),
         box=(83, 280, 398, 318), cap=(229, 362)),
    dict(raw=raw_b + raw_b_core, fl=b_fit_left, hl=b_hw_left, fr=b_fit_right, hr=b_hw_right, bm=b_bin_mean,
         yr=[-2.52, 2.61], yt=b_y_ticks, yl=b_y_labels,
         dom_x=(528, 948), dom_y=(7, 242), leg_cols=(583, 753), leg_rows=(292, 308),
         box=(578, 280, 899, 318), cap=(727, 362)),
    dict(raw=raw_c + raw_c_core, fl=c_fit_left, hl=c_hw_left, fr=c_fit_right, hr=c_hw_right, bm=c_bin_mean,
         yr=[-0.03, 1.03], yt=c_y_ticks, yl=c_y_labels,
         dom_x=(30, 450), dom_y=(421.7, 655), leg_cols=(92, 247), leg_rows=(706, 722),
         box=(88, 694, 394, 732), cap=(231, 774)),
    dict(raw=raw_d + raw_d_core, fl=d_fit_left, hl=d_hw_left, fr=d_fit_right, hr=d_hw_right, bm=d_bin_mean,
         yr=[4.845, 10.245], yt=d_y_ticks, yl=[str(v) for v in d_y_ticks],
         dom_x=(528, 948), dom_y=(421.7, 655), leg_cols=(586, 750), leg_rows=(706, 722),
         box=(581, 694, 896, 732), cap=(728, 774)),
]

layout_extra = {}
shapes = []
annotations = []
leg_n = 0

def new_legend(x_sym, y_c):
    global leg_n
    leg_n += 1
    key = "legend" if leg_n == 1 else f"legend{leg_n}"
    layout_extra[key] = dict(
        x=px(x_sym - 5), y=py(y_c), xanchor="left", yanchor="middle",
        bgcolor="rgba(0,0,0,0)", borderwidth=0, itemwidth=43,
        font=dict(family=FONT, size=12, color="black"),
        orientation="v", tracegroupgap=0, itemclick=False, itemdoubleclick=False)
    return key

for i, p in enumerate(panels, start=1):
    xa = "x" if i == 1 else f"x{i}"
    ya = "y" if i == 1 else f"y{i}"
    L_raw = new_legend(p["leg_cols"][0], p["leg_rows"][0])
    L_ci = new_legend(p["leg_cols"][1], p["leg_rows"][0])
    L_line = new_legend(p["leg_cols"][0], p["leg_rows"][1])
    L_mean = new_legend(p["leg_cols"][1], p["leg_rows"][1])

    fig.add_trace(go.Scatter(
        x=[q[0] for q in p["raw"]], y=[q[1] for q in p["raw"]], mode="markers",
        marker=dict(symbol="circle-open", size=6.5, color=RAW_C, line=dict(width=1, color=RAW_C)),
        name=f"raw data: {var_names[i-1]}", legend=L_raw, showlegend=True,
        xaxis=xa, yaxis=ya, hoverinfo="skip"))

    for side, (xs, fit, hw) in enumerate([(sm_x_left, p["fl"], p["hl"]), (sm_x_right, p["fr"], p["hr"])]):
        lo = [f - h for f, h in zip(fit, hw)]
        hi = [f + h for f, h in zip(fit, hw)]
        fig.add_trace(go.Scatter(x=xs, y=lo, mode="lines", line=dict(width=0, shape="spline", color=CI_C),
                                 showlegend=False, xaxis=xa, yaxis=ya, hoverinfo="skip", legend=L_ci))
        fig.add_trace(go.Scatter(x=xs, y=hi, mode="lines", line=dict(width=0, shape="spline", color=CI_C),
                                 fill="tonexty", fillcolor=CI_C, name="95% CI",
                                 showlegend=(side == 0), legend=L_ci, xaxis=xa, yaxis=ya,
                                 hoverinfo="skip"))

    fig.add_trace(go.Scatter(
        x=sm_x_left + [None] + sm_x_right, y=p["fl"] + [None] + p["fr"], mode="lines",
        line=dict(color=LINE_C, width=1.6, shape="spline"), connectgaps=False,
        name="lpoly smoother", legend=L_line, showlegend=True, xaxis=xa, yaxis=ya))

    fig.add_trace(go.Scatter(
        x=bin_x, y=p["bm"], mode="markers",
        marker=dict(symbol="triangle-up-open", size=8, color=TRI_C, line=dict(width=1.4, color=TRI_C)),
        name="mean within bins", legend=L_mean, showlegend=True, xaxis=xa, yaxis=ya))

    common = dict(showline=True, linecolor="black", linewidth=1.3, mirror=True,
                  ticks="outside", ticklen=5, tickwidth=1, tickcolor="black",
                  showgrid=False, zeroline=False,
                  tickfont=dict(family=FONT, size=11.5, color="black"))
    layout_extra["xaxis" if i == 1 else f"xaxis{i}"] = dict(
        common, domain=[px(p["dom_x"][0]), px(p["dom_x"][1])], range=[-20.8, 20.7],
        tickvals=x_ticks, ticktext=x_tick_labels,
        minor=dict(tickvals=x_minor, ticks="outside", ticklen=5, tickwidth=1, tickcolor="black", showgrid=False),
        title=dict(text="Margin of Victory (%)", font=dict(family=FONT, size=12, color="black"), standoff=4),
        anchor=ya)
    layout_extra["yaxis" if i == 1 else f"yaxis{i}"] = dict(
        common, domain=[py(p["dom_y"][1]), py(p["dom_y"][0])], range=p["yr"],
        tickvals=p["yt"], ticktext=p["yl"], tickangle=-90, anchor=xa)

    # legend frame and a fuller swatch for the CI key
    bx0, by0, bx1, by1 = p["box"]
    shapes.append(dict(type="rect", xref="paper", yref="paper", x0=px(bx0), x1=px(bx1),
                       y0=py(by1), y1=py(by0), line=dict(color="black", width=1), fillcolor="rgba(0,0,0,0)"))
    cx0 = p["leg_cols"][1]
    cy = p["leg_rows"][0]
    shapes.append(dict(type="rect", xref="paper", yref="paper", x0=px(cx0), x1=px(cx0 + 44),
                       y0=py(cy + 6), y1=py(cy - 6), line=dict(width=0), fillcolor=CI_C))
    annotations.append(dict(text=captions[i-1], xref="paper", yref="paper", x=px(p["cap"][0]),
                            y=py(p["cap"][1]), xanchor="center", yanchor="middle", showarrow=False,
                            font=dict(family="DejaVu Serif, serif", size=21, color="black")))

fig.update_layout(
    width=W, height=H, margin=dict(l=0, r=0, t=0, b=0),
    paper_bgcolor="white", plot_bgcolor="white", showlegend=True,
    font=dict(family=FONT, color="black"),
    shapes=shapes, annotations=annotations, **layout_extra)

fig.write_html("out.html")
